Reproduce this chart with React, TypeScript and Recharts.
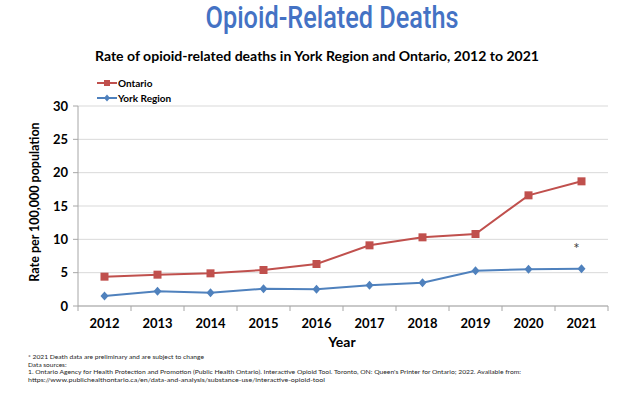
import React from 'react';
import { LineChart, Line, XAxis, YAxis, CartesianGrid } from 'recharts';

const years = ['2012', '2013', '2014', '2015', '2016', '2017', '2018', '2019', '2020', '2021'];
const ontario = [4.4, 4.7, 4.9, 5.4, 6.3, 9.1, 10.3, 10.8, 16.6, 18.7];
const york = [1.5, 2.2, 2.0, 2.6, 2.5, 3.1, 3.5, 5.3, 5.5, 5.6];
const yTicks = [0, 5, 10, 15, 20, 25, 30];

const seriesNames = { ontario: 'Ontario', york: 'York Region' };
const RED = '#C0504D';
const BLUE = '#4F81BD';
const FONT = 'Lato, "Open Sans", sans-serif';

const footnotes = [
  '* 2021 Death data are preliminary and are subject to change',
  'Data sources:',
  "1. Ontario Agency for Health Protection and Promotion (Public Health Ontario). Interactive Opioid Tool. Toronto, ON: Queen's Printer for Ontario; 2022. Available from:",
  'https://www.publichealthontario.ca/en/data-and-analysis/substance-use/interactive-opioid-tool',
];
const footWidths = [176, 0, 493, 297];

const data = years.map((year, i) => ({ year, ontario: ontario[i], york: york[i] }));

const HALF_BAND = 26.5;

function XTick(props: any) {
  const { x, y, payload, index } = props;
  return (
    <g>
      <line x1={x - HALF_BAND} x2={x - HALF_BAND} y1={y} y2={y + 5} stroke="#A6A6A6" />
      {index === years.length - 1 && (
        <line x1={x + HALF_BAND} x2={x + HALF_BAND} y1={y} y2={y + 5} stroke="#A6A6A6" />
      )}
      <text x={x} y={y + 22} textAnchor="middle" fontSize={13} fontWeight={700} fill="#000" fontFamily={FONT}>
        {payload.value}
      </text>
    </g>
  );
}

function SquareDot(props: any) {
  const { cx, cy } = props;
  if (cx == null || cy == null) return <g />;
  return <rect x={cx - 4} y={cy - 4} width={8} height={8} fill={RED} />;
}

function DiamondDot(props: any) {
  const { cx, cy } = props;
  if (cx == null || cy == null) return <g />;
  return <path d={`M${cx},${cy - 4.5}L${cx + 4},${cy}L${cx},${cy + 4.5}L${cx - 4},${cy}Z`} fill={BLUE} />;
}

function StarLabel(props: any) {
  const { x, y, index } = props;
  if (index !== years.length - 1) return <g />;
  return (
    <text x={x - 5} y={y - 15} fontSize={15} fill="#404040" textAnchor="middle" fontFamily={FONT}>
      *
    </text>
  );
}

function LegendItems() {
  const items = [
    { name: seriesNames.ontario, color: RED, square: true },
    { name: seriesNames.york, color: BLUE, square: false },
  ];
  return (
    <g transform="translate(97,77)">
      {items.map((it, i) => {
        const cy = 6 + i * 15;
        return (
          <g key={it.name}>
            <line x1={0} x2={20} y1={cy} y2={cy} stroke={it.color} strokeWidth={2} />
            {it.square ? (
              <rect x={7} y={cy - 3} width={6} height={6} fill={it.color} />
            ) : (
              <path d={`M10,${cy - 3.5}L13,${cy}L10,${cy + 3.5}L7,${cy}Z`} fill={it.color} />
            )}
            <text x={21} y={cy + 3.5} fontSize={10} fontWeight={700} fill="#000" fontFamily={FONT}>
              {it.name}
            </text>
          </g>
        );
      })}
    </g>
  );
}

export default function App() {
  return (
    <div style={{ position: 'absolute', left: 0, top: 0, width: 624, height: 395, background: '#fff' }}>
      <LineChart width={624} height={395} data={data} margin={{ top: 106, right: 16, bottom: 0, left: 0 }}>
        <CartesianGrid vertical={false} stroke="#D9D9D9" />
        <XAxis
          dataKey="year"
          interval={0}
          padding={{ left: HALF_BAND, right: HALF_BAND }}
          axisLine={{ stroke: '#A6A6A6' }}
          tickLine={false}
          tickSize={0}
          tickMargin={0}
          height={89}
          tick={<XTick />}
        />
        <YAxis
          width={78}
          domain={[0, 30]}
          ticks={yTicks}
          interval={0}
          axisLine={{ stroke: '#A6A6A6' }}
          tickLine={{ stroke: '#A6A6A6' }}
          tickSize={5}
          tickMargin={5}
          tick={{ fontSize: 13, fontWeight: 700, fill: '#000', fontFamily: FONT }}
        />
        <Line
          dataKey="ontario"
          name={seriesNames.ontario}
          stroke={RED}
          strokeWidth={2}
          dot={<SquareDot />}
          isAnimationActive={false}
        />
        <Line
          dataKey="york"
          name={seriesNames.york}
          stroke={BLUE}
          strokeWidth={2}
          dot={<DiamondDot />}
          label={<StarLabel />}
          isAnimationActive={false}
        />
      </LineChart>
      <svg
        width={624}
        height={395}
        style={{ position: 'absolute', left: 0, top: 0, pointerEvents: 'none' }}
      >
        <text
          x={332}
          y={28}
          textAnchor="middle"
          fontSize={31}
          fontWeight={500}
          fill="#4472C4"
          fontFamily='Roboto, "DejaVu Sans Condensed", sans-serif'
          textLength={253}
          lengthAdjust="spacingAndGlyphs"
        >
          Opioid-Related Deaths
        </text>
        <text
          x={317}
          y={61}
          textAnchor="middle"
          fontSize={14}
          fontWeight={700}
          fill="#000"
          fontFamily={FONT}
          textLength={444}
          lengthAdjust="spacingAndGlyphs"
        >
          Rate of opioid-related deaths in York Region and Ontario, 2012 to 2021
        </text>
        <LegendItems />
        <text
          x={0}
          y={0}
          transform="translate(39,202) rotate(-90)"
          textAnchor="middle"
          fontSize={12.5}
          fontWeight={700}
          fill="#000"
          fontFamily={FONT}
        >
          Rate per 100,000 population
        </text>
        <text x={342} y={347} textAnchor="middle" fontSize={14} fontWeight={700} fill="#000" fontFamily={FONT}>
          Year
        </text>
        {footnotes.map((t, i) => (
          <text
            key={i}
            x={28}
            y={359 + i * 7.5}
            fontSize={6.5}
            fill="#262626"
            fontFamily={FONT}
            textLength={footWidths[i] || undefined}
            lengthAdjust="spacingAndGlyphs"
          >
            {t}
          </text>
        ))}
      </svg>
    </div>
  );
}
